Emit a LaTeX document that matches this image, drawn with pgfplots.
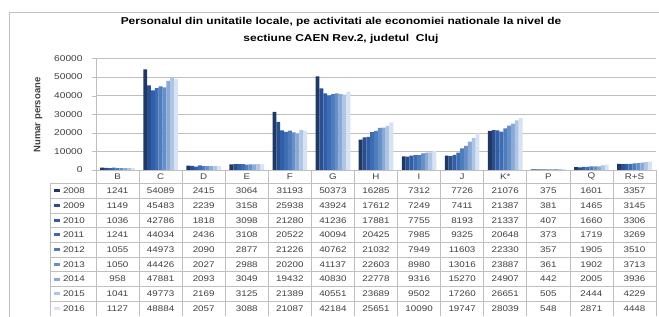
\documentclass[border=0pt]{standalone}
\usepackage{pgfplots}
\usepackage{pgfplotstable}
\pgfplotsset{compat=1.18}
\usepackage{fontspec}
\setmainfont{Liberation Sans}[FakeStretch=1.2]
\newfontfamily\plainfont{Liberation Sans}
\definecolor{c1}{HTML}{1F3864}
\definecolor{c2}{HTML}{2A4F8E}
\definecolor{c3}{HTML}{315EA6}
\definecolor{c4}{HTML}{3D6CB3}
\definecolor{c5}{HTML}{4F7CBD}
\definecolor{c6}{HTML}{6890C8}
\definecolor{c7}{HTML}{8AAAD6}
\definecolor{c8}{HTML}{AFC5E4}
\definecolor{c9}{HTML}{D7E3F3}
\definecolor{gl}{HTML}{BFBFBF}
\definecolor{tx}{HTML}{404040}
\pgfplotstableread{
cat  y2008 y2009 y2010 y2011 y2012 y2013 y2014 y2015 y2016
B    1241  1149  1036  1241  1055  1050  958   1041  1127
C    54089 45483 42786 44034 44973 44426 47881 49773 48884
D    2415  2239  1818  2436  2090  2027  2093  2169  2057
E    3064  3158  3098  3108  2877  2988  3049  3125  3088
F    31193 25938 21280 20522 21226 20200 19432 21389 21087
G    50373 43924 41236 40094 40762 41137 40830 40551 42184
H    16285 17612 17881 20425 21032 22603 22778 23689 25651
I    7312  7249  7755  7985  7949  8980  9316  9502  10090
J    7726  7411  8193  9325  11603 13016 15270 17260 19747
K*   21076 21387 21337 20648 22330 23887 24907 26651 28039
P    375   381   407   373   357   361   442   505   548
Q    1601  1465  1660  1719  1905  1902  2005  2444  2871
R+S  3357  3145  3306  3269  3510  3713  3936  4229  4448
}\data
\begin{document}
\begin{tikzpicture}[x=1bp,y=1bp]
\useasboundingbox (0,0) rectangle (659,-316);
\fill[white] (0,0) rectangle (659,-316);
% outer frame
\draw[gl, line width=0.8bp] (9,-330) -- (9,-12) -- (670,-12);
% title
\node[font=\bfseries\fontsize{10}{17}\selectfont, align=center] at (341,-30)
  {Personalul din unitatile locale, pe activitati ale economiei nationale la nivel de\\
   sectiune CAEN Rev.2, judetul\ \ Cluj};
% y label
\node[rotate=90, font=\plainfont\bfseries\fontsize{9.5}{11}\selectfont, text=tx] at (38,-115) {Numar persoane};
\begin{axis}[
  at={(96bp,-170bp)}, anchor=south west,
  scale only axis, width=560bp, height=111.6bp,
  xmin=-0.5, xmax=12.5, ymin=0, ymax=60000,
  ybar=0pt, bar width=3.85bp,
  xtick=\empty,
  ytick={0,10000,...,60000},
  scaled y ticks=false,
  /pgf/number format/assume math mode=true,
  /pgf/number format/1000 sep={},
  yticklabel style={font=\fontsize{8.5}{10}\selectfont, text=tx, xshift=-6bp},
  axis x line=none,
  axis y line*=left,
  axis line style={gl, -},
  y axis line style={gl},
  tick style={gl},
  tick align=outside,
  major tick length=4bp,
  ymajorgrids, grid style={gl, line width=0.6bp},
  every axis plot/.append style={draw=none},
  clip=false,
]
\addplot[fill=c1] table[x expr=\coordindex, y=y2008] {\data};
\addplot[fill=c2] table[x expr=\coordindex, y=y2009] {\data};
\addplot[fill=c3] table[x expr=\coordindex, y=y2010] {\data};
\addplot[fill=c4] table[x expr=\coordindex, y=y2011] {\data};
\addplot[fill=c5] table[x expr=\coordindex, y=y2012] {\data};
\addplot[fill=c6] table[x expr=\coordindex, y=y2013] {\data};
\addplot[fill=c7] table[x expr=\coordindex, y=y2014] {\data};
\addplot[fill=c8] table[x expr=\coordindex, y=y2015] {\data};
\addplot[fill=c9] table[x expr=\coordindex, y=y2016] {\data};
\end{axis}
% data table
\pgfmathsetmacro{\cw}{560/13}
\draw[gl, line width=0.6bp] (96,-170) -- (656,-170);
\foreach \k in {0,...,13} {
  \draw[gl, line width=0.6bp] ({96+\cw*\k},-170) -- ({96+\cw*\k},-316);
}
\draw[gl, line width=0.6bp] (50,-183.5) -- (50,-316);
\foreach \r in {0,...,8} {
  \draw[gl, line width=0.6bp] (50,{-183.5-14.7*\r}) -- (656,{-183.5-14.7*\r});
}
\foreach \c in {0,...,12} {
  \pgfplotstablegetelem{\c}{cat}\of\data
  \node[font=\fontsize{8.2}{9}\selectfont, text=tx] at ({96+\cw*\c+\cw/2},-176.7) {\pgfplotsretval};
  \foreach \yr [count=\r from 0] in {2008,...,2016} {
    \pgfplotstablegetelem{\c}{y\yr}\of\data
    \node[font=\fontsize{8.2}{9}\selectfont, text=tx] at ({96+\cw*\c+\cw/2},{-190.85-14.7*\r}) {\pgfplotsretval};
  }
}
\foreach \yr [count=\r from 0] in {2008,...,2016} {
  \pgfmathtruncatemacro{\ci}{\r+1}
  \fill[c\ci] (53.5,{-189.35-14.7*\r}) rectangle (59.5,{-192.35-14.7*\r});
  \node[font=\fontsize{8.2}{9}\selectfont, text=tx, anchor=west] at (59.5,{-190.85-14.7*\r}) {\yr};
}
\end{tikzpicture}
\end{document}
